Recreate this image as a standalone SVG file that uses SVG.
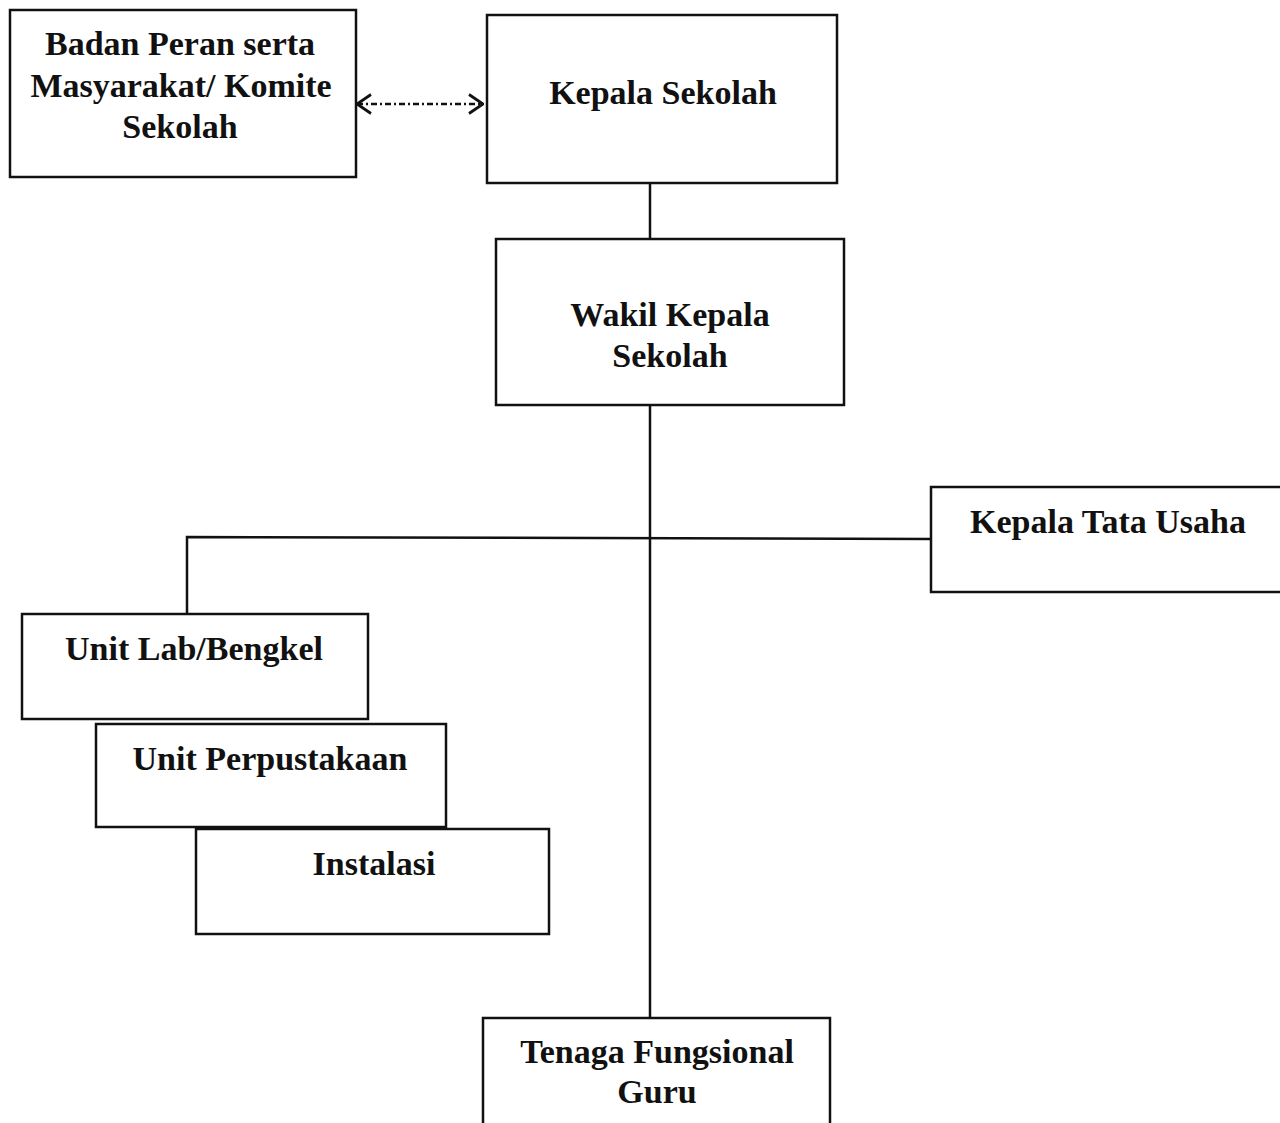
<svg xmlns="http://www.w3.org/2000/svg" width="1280" height="1123" viewBox="0 0 1280 1123">
<style>
.box{fill:#fff;stroke:#111;stroke-width:2.5}
.ln{fill:none;stroke:#111;stroke-width:2.5}
.t{font-family:"Liberation Serif","Times New Roman",serif;font-weight:bold;font-size:34px;fill:#111;text-anchor:middle}
</style>
<defs>
<marker id="chev" viewBox="0 0 16 22" refX="15" refY="11" markerWidth="16" markerHeight="22" markerUnits="userSpaceOnUse" orient="auto-start-reverse">
<path d="M1 1.5 L15 11 L1 20.5" fill="none" stroke="#111" stroke-width="2.8"/>
</marker>
</defs>
<rect width="1280" height="1123" fill="#fff"/>
<g id="connectors">
<line class="ln" x1="357" y1="104" x2="483" y2="104" stroke="#555" stroke-width="1.5" stroke-dasharray="6 3 2 3" marker-start="url(#chev)" marker-end="url(#chev)"/>
<line class="ln" x1="650" y1="183" x2="650" y2="239"/>
<line class="ln" x1="650" y1="405" x2="650" y2="1018"/>
<polyline class="ln" points="187,614 187,537 931,539"/>
</g>
<g id="badan">
<rect class="box" x="10" y="10" width="346" height="167"/>
<text class="t" x="180" y="55">Badan Peran serta</text>
<text class="t" x="181" y="97">Masyarakat/ Komite</text>
<text class="t" x="180" y="138">Sekolah</text>
</g>
<g id="kepala-sekolah">
<rect class="box" x="487" y="15" width="350" height="168"/>
<text class="t" x="663" y="104">Kepala Sekolah</text>
</g>
<g id="wakil">
<rect class="box" x="496" y="239" width="348" height="166"/>
<text class="t" x="670" y="326">Wakil Kepala</text>
<text class="t" x="670" y="367">Sekolah</text>
</g>
<g id="tata-usaha">
<rect class="box" x="931" y="487" width="360" height="105"/>
<text class="t" x="1108" y="533">Kepala Tata Usaha</text>
</g>
<g id="lab">
<rect class="box" x="22" y="614" width="346" height="105"/>
<text class="t" x="194" y="660">Unit Lab/Bengkel</text>
</g>
<g id="perpustakaan">
<rect class="box" x="96" y="724" width="350" height="103"/>
<text class="t" x="270" y="770">Unit Perpustakaan</text>
</g>
<g id="instalasi">
<rect class="box" x="196" y="829" width="353" height="105"/>
<text class="t" x="374" y="875">Instalasi</text>
</g>
<g id="tenaga">
<rect class="box" x="483" y="1018" width="347" height="120"/>
<text class="t" x="657" y="1063">Tenaga Fungsional</text>
<text class="t" x="657" y="1103">Guru</text>
</g>
</svg>
